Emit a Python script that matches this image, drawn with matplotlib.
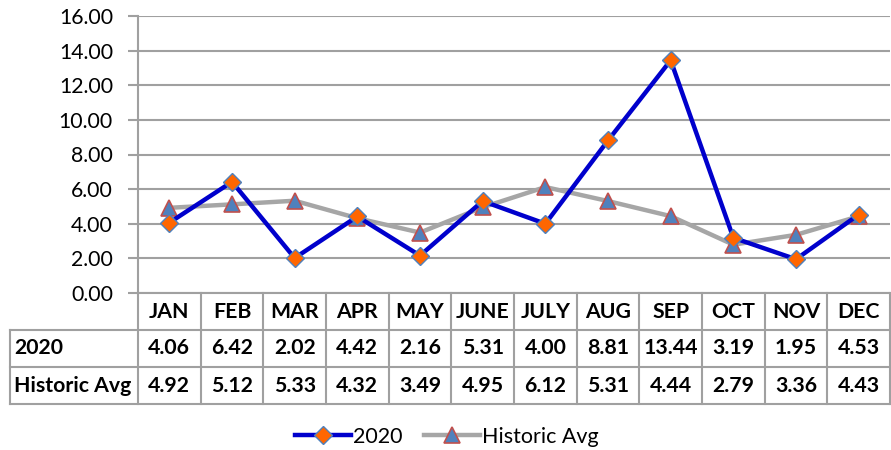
import matplotlib
matplotlib.use("Agg")
import matplotlib.pyplot as plt
from matplotlib.lines import Line2D
import matplotlib.transforms as mtransforms

months = ["JAN", "FEB", "MAR", "APR", "MAY", "JUNE", "JULY", "AUG", "SEP", "OCT", "NOV", "DEC"]
series_2020 = [4.06, 6.42, 2.02, 4.42, 2.16, 5.31, 4.00, 8.81, 13.44, 3.19, 1.95, 4.53]
historic = [4.92, 5.12, 5.33, 4.32, 3.49, 4.95, 6.12, 5.31, 4.44, 2.79, 3.36, 4.43]
yticks = [0, 2, 4, 6, 8, 10, 12, 14, 16]

plt.rcParams['font.family'] = ['Lato', 'DejaVu Sans']

W, H = 891, 450
fig = plt.figure(figsize=(W / 100, H / 100), dpi=100)
left_px, right_px, top_px, bottom_px = 138, 890, 16, 293
ax = fig.add_axes([left_px / W, 1 - bottom_px / H, (right_px - left_px) / W, (bottom_px - top_px) / H])

x = list(range(len(months)))
grid_c = "#A0A0A0"
ax.set_xlim(-0.5, len(months) - 0.5)
ax.set_ylim(0, 16)
ax.set_yticks(yticks)
ax.set_yticklabels([f"{v:.2f}" for v in yticks], fontsize=15.3)
ax.yaxis.grid(True, color=grid_c, linewidth=1.5)
ax.set_axisbelow(True)
ax.set_xticks([])
for s in ["top", "right", "bottom"]:
    ax.spines[s].set_visible(False)
ax.spines["left"].set_color(grid_c)
ax.spines["left"].set_linewidth(1.5)
ax.tick_params(axis="y", length=7, width=1.5, color=grid_c, pad=11)

l2, = ax.plot(x, historic, color="#A6A6A6", linewidth=3.2, marker="^", markersize=11,
              markerfacecolor="#4F81BD", markeredgecolor="#C0504D", markeredgewidth=1.2,
              label="Historic Avg", clip_on=False, zorder=3)
l1, = ax.plot(x, series_2020, color="#0000CC", linewidth=3.2, marker="D", markersize=9,
              markerfacecolor="#FF6600", markeredgecolor="#4F81BD", markeredgewidth=1.0,
              label="2020", clip_on=False, zorder=4)

# data table below the plot
trans = mtransforms.blended_transform_factory(ax.transData, ax.transAxes)
ax_h = bottom_px - top_px
row_h = 37 / ax_h
px_per_unit = (right_px - left_px) / len(months)
label_left = -0.5 - (left_px - 10) / px_per_unit
lw = 1.5
for k in range(4):
    y = -k * row_h
    x0 = -0.5 if k == 0 else label_left
    ax.add_line(Line2D([x0, len(months) - 0.5], [y, y], transform=trans, color=grid_c,
                       linewidth=lw, clip_on=False))
for i in range(len(months) + 1):
    xe = i - 0.5
    ax.add_line(Line2D([xe, xe], [0, -3 * row_h], transform=trans, color=grid_c,
                       linewidth=lw, clip_on=False))
ax.add_line(Line2D([label_left, label_left], [-row_h, -3 * row_h], transform=trans,
                   color=grid_c, linewidth=lw, clip_on=False))

fs = 15.3
for i, m in enumerate(months):
    ax.text(i, -0.5 * row_h, m, transform=trans, ha="center", va="center",
            fontsize=fs, fontweight="bold")
    ax.text(i, -1.5 * row_h, f"{series_2020[i]:.2f}", transform=trans, ha="center",
            va="center", fontsize=fs, fontweight="bold")
    ax.text(i, -2.5 * row_h, f"{historic[i]:.2f}", transform=trans, ha="center",
            va="center", fontsize=fs, fontweight="bold")
ax.text(label_left + 0.06, -1.5 * row_h, "2020", transform=trans, ha="left", va="center",
        fontsize=fs, fontweight="bold")
ax.text(label_left + 0.06, -2.5 * row_h, "Historic Avg", transform=trans, ha="left",
        va="center", fontsize=fs, fontweight="bold")

fig.legend(handles=[l1, l2], loc="center", bbox_to_anchor=(447 / W, 1 - 437 / H),
           ncol=2, frameon=False, fontsize=15.5, handlelength=2.6, columnspacing=1.0,
           handletextpad=0.1, numpoints=1)

fig.savefig("out.png", dpi=100)
